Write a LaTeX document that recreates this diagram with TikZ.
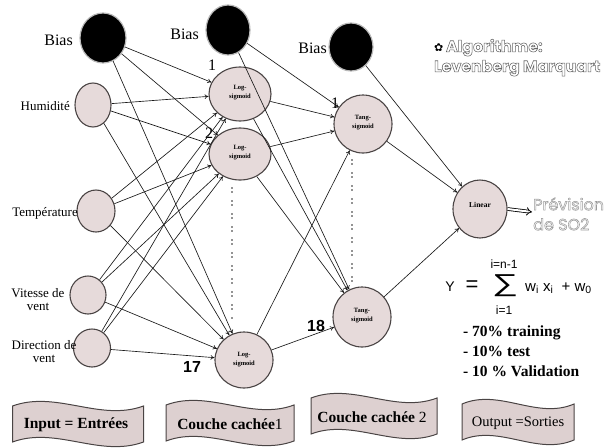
\documentclass[tikz,border=0pt]{standalone}
\usepackage{fontspec}
\usepackage{graphicx}
\setmainfont{Liberation Serif}
\newfontfamily\arialf{Liberation Sans}
\newfontfamily\popf{Poppins}
\newfontfamily\djv{DejaVu Sans}
\usetikzlibrary{shapes.geometric,arrows.meta}
\definecolor{nfill}{HTML}{E6DADA}
\definecolor{nline}{HTML}{4A4444}
\definecolor{bfill}{HTML}{DDD0D0}
\newcommand\hollow[2]{\special{pdf:code 2 Tr 0.55 w #1 G}#2\special{pdf:code 0 Tr}}
% wave banner outline: #1 x, #2 y, #3 w, #4 h
\newcommand\wavebox[4]{%
  \filldraw[bannerline]
    ({#1-#3/2},{#2-#4/2}) .. controls ({#1-#3/6},{#2-#4/2-16}) and ({#1+#3/6},{#2-#4/2+16}) .. ({#1+#3/2},{#2-#4/2})
    -- ({#1+#3/2},{#2+#4/2}) .. controls ({#1+#3/6},{#2+#4/2+16}) and ({#1-#3/6},{#2+#4/2-16}) .. ({#1-#3/2},{#2+#4/2})
    -- cycle;}
\begin{document}
\begin{tikzpicture}[x=1pt,y=-1pt,
  neuron/.style={ellipse, draw=nline, line width=1.1pt, fill=nfill, inner sep=0pt,
    font=\bfseries\fontsize{6.5}{7}\selectfont, align=center},
  biasn/.style={ellipse, draw=gray!55, line width=1.2pt, fill=black, inner sep=0pt},
  lbl/.style={font=\fontsize{13}{13}\selectfont, align=center, inner sep=0pt},
  biaslbl/.style={font=\fontsize{16}{16}\selectfont, inner sep=0pt},
  num/.style={font=\fontsize{16}{16}\selectfont, inner sep=0pt},
  bnum/.style={font=\arialf\bfseries\fontsize{16}{16}\selectfont, inner sep=0pt},
  conn/.style={-{To[length=4pt,width=4.5pt]}, line width=0.65pt, black!90},
  bannerline/.style={draw=nline, line width=1pt, fill=bfill},
  bantext/.style={inner sep=0pt, font=\fontsize{15.5}{15.5}\selectfont},
  dotcol/.style={line width=1.8pt, line cap=round, dash pattern=on 0pt off 4pt on 0pt off 9pt, black!85},
  hol/.style={inner sep=0pt, text=white, font=\popf\bfseries\fontsize{15.8}{20}\selectfont, align=left}
]
\useasboundingbox (0,0) rectangle (609,447);

% input layer
\node[biasn, minimum width=46pt, minimum height=50pt] (b0) at (103,38) {};
\node[neuron, minimum width=36pt, minimum height=44pt] (h) at (93,105) {};
\node[neuron, minimum width=38pt, minimum height=42pt] (t) at (96,211) {};
\node[neuron, minimum width=36pt, minimum height=38pt] (v) at (88,295) {};
\node[neuron, minimum width=37pt, minimum height=38pt] (d) at (92,348) {};

\node[biaslbl, anchor=east] (lb0) at (73,40) {Bias};
\node[lbl, anchor=east] (lh) at (70,106) {Humidité};
\node[lbl, anchor=east] (lt) at (78,213) {Température};
\node[lbl] (lv) at (38,300) {Vitesse de\\vent};
\node[lbl] (ld) at (44,352) {Direction de\\vent};

% hidden layer 1
\node[biasn, minimum width=44pt, minimum height=50pt] (b1) at (228,30) {};
\node[neuron, minimum width=62pt, minimum height=54pt] (l1) at (240,94) {\raisebox{4pt}{\shortstack{Log-\\sigmoid}}};
\node[neuron, minimum width=62pt, minimum height=52pt] (l2) at (240,154) {\raisebox{4pt}{\shortstack{Log-\\sigmoid}}};
\node[neuron, minimum width=58pt, minimum height=56pt] (l17) at (244,360) {\raisebox{2pt}{\shortstack{Log-\\sigmoid}}};
\node[biaslbl, anchor=east] (lb1) at (199,34) {Bias};
\node[num] (n1) at (212,65) {1};
\node[num] (n2) at (209,133) {2};
\node[bnum] (n17) at (192,367) {17};
\draw[dotcol] (232,188) -- (232,320);

% hidden layer 2
\node[biasn, minimum width=44pt, minimum height=48pt] (b2) at (351,47) {};
\node[neuron, minimum width=58pt, minimum height=58pt] (t1) at (363,124) {\raisebox{4pt}{\shortstack{Tang-\\sigmoid}}};
\node[neuron, minimum width=58pt, minimum height=60pt] (t18) at (362,317) {\raisebox{4pt}{\shortstack{Tang-\\sigmoid}}};
\node[biaslbl, anchor=east] (lb2) at (327,48) {Bias};
\node[num] (m1) at (335,103) {1};
\node[bnum] (n18) at (316,326) {18};
\draw[dotcol] (352,160) -- (352,284);

% output
\node[neuron, minimum width=54pt, minimum height=58pt, font=\bfseries\fontsize{7.5}{8}\selectfont] (o) at (480,209) {\raisebox{8pt}{Linear}};

% connections input -> hidden 1
\foreach \s in {b0,h,t,v,d}{
  \foreach \e in {l1,l2,l17}{
    \draw[conn] (\s) -- (\e);
  }
}
% hidden 1 -> hidden 2
\foreach \s in {b1,l1,l2,l17}{
  \foreach \e in {t1,t18}{
    \draw[conn] (\s) -- (\e);
  }
}
% hidden 2 -> output
\foreach \s in {b2,t1,t18}{
  \draw[conn] (\s) -- (o);
}

% prediction
\coordinate (pv) at (532,212);
\draw[double distance=2pt, line width=0.8pt, -{Implies[length=6pt]}, black] (o.east) -- (pv);
\node[hol, anchor=west, font=\popf\fontsize{16}{20}\selectfont] (prev) at (533,214) {\hollow{0.6}{Prévision}\\\hollow{0.6}{de SO2}};

% algorithm
\node[hol, anchor=north west] (algo) at (434,39) {{\djv\color{black}\fontsize{11}{11}\selectfont ✿}\,\hollow{0.4}{Algorithme:}\\\hollow{0.4}{Levenberg Marquart}};

% formula
\node[font=\arialf\fontsize{14}{14}\selectfont, inner sep=0pt] (fy) at (450,287) {Y};
\node[font=\arialf\fontsize{22}{22}\selectfont, inner sep=0pt] (feq) at (472,286) {=};
\node[inner sep=0pt] (fsig) at (505,286) {\resizebox*{26pt}{22pt}{\arialf ∑}};
\node[font=\arialf\fontsize{12}{12}\selectfont, inner sep=0pt] (ftop) at (504,264) {i=n-1};
\node[font=\arialf\fontsize{12}{12}\selectfont, inner sep=0pt] (fbot) at (504,310) {i=1};
\node[font=\arialf\fontsize{15}{15}\selectfont, inner sep=0pt, anchor=west] (fw) at (525,288) {w\textsubscript{i} x\textsubscript{i}~ + w\textsubscript{0}};

% splits
\node[font=\bfseries\fontsize{15.5}{20}\selectfont, align=left, anchor=north west, inner sep=0pt] (split) at (463,326) {- 70\% training\\- 10\% test\\- 10 \% Validation};

% banners
\wavebox{78}{424}{131}{36}
\node[bantext] (bi) at (76,425) {\textbf{Input = Entrées}};
\wavebox{230}{423}{128}{36}
\node[bantext] (bc1) at (230,424) {\textbf{Couche cachée}1};
\wavebox{374}{416}{126}{36}
\node[bantext] (bc2) at (372,417) {\textbf{Couche cachée} 2};
\wavebox{518}{422}{112}{36}
\node[bantext, font=\fontsize{14.5}{14.5}\selectfont] (bo) at (518,423) {Output =Sorties};
\end{tikzpicture}
\end{document}
